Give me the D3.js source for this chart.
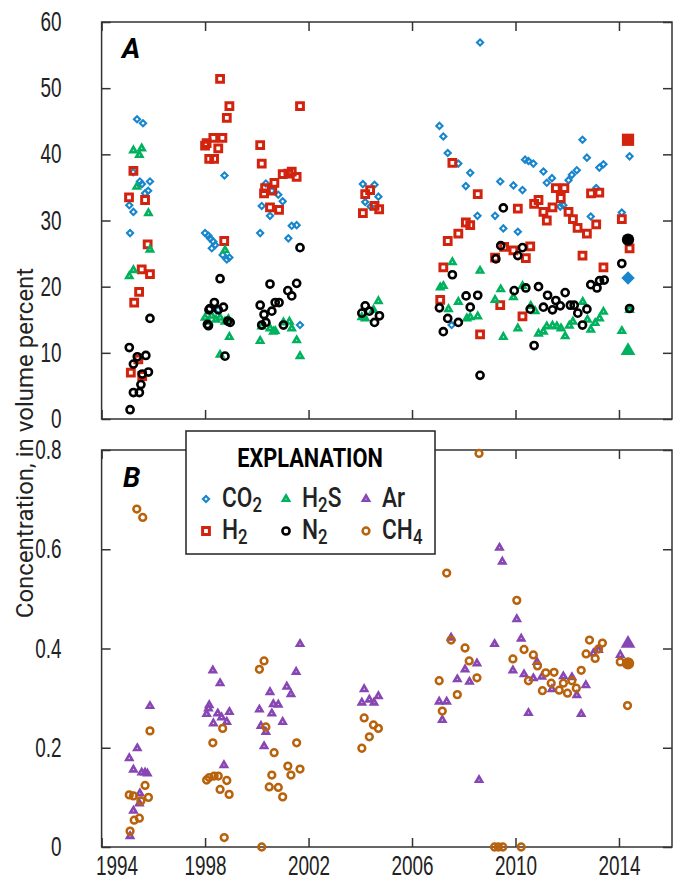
<!DOCTYPE html>
<html>
<head>
<meta charset="utf-8">
<script src="https://cdn.jsdelivr.net/npm/d3@7"></script>
<style>
  body { margin: 0; background: #fff; }
  svg { display: block; font-family: Roboto, 'Liberation Sans', sans-serif; }
  .frame { fill: none; stroke: #333; stroke-width: 1.5; }
  .axis path { display: none; }
  .axis line { stroke: #333; stroke-width: 1.5; }
  .axis text { font-size: 27px; font-weight: 500; fill: #222; }
</style>
</head>
<body>
<svg id="chart" width="677" height="882"></svg>
<script>
// [year, volume percent]
const co2 = [
  [1995.07, 32.3], [1995.23, 31.3], [1995.10, 28.1], [1995.22, 37.3], [1995.37, 45.3],
  [1995.60, 44.7], [1995.48, 35.9], [1995.56, 35.5], [1995.87, 35.9], [1995.80, 34.5],
  [1995.68, 34.1],
  [1998.00, 28.1], [1998.13, 27.7], [1998.19, 27.3], [1998.32, 26.8], [1998.39, 26.3],
  [1998.26, 25.8], [1998.68, 24.8], [1998.84, 24.1], [1998.94, 24.4], [1998.75, 36.8],
  [1998.51, 16.5],
  [2000.35, 35.6], [2000.58, 34.5], [2000.83, 33.9], [2001.00, 32.9], [2000.19, 32.2],
  [2000.51, 30.7], [2000.13, 28.1], [2001.35, 29.2], [2001.54, 29.3], [2001.22, 27.3],
  [2001.67, 14.2],
  [2004.10, 35.5], [2004.55, 35.4], [2004.70, 33.6], [2004.19, 32.8], [2004.40, 32.1],
  [2007.06, 44.3], [2007.21, 42.7], [2007.38, 40.2], [2007.79, 38.6], [2008.25, 37.2],
  [2008.08, 35.2], [2008.53, 30.7], [2009.21, 30.7], [2008.63, 56.9], [2009.41, 35.9],
  [2009.92, 35.3], [2010.27, 34.6], [2010.37, 39.2], [2010.50, 39.0], [2010.69, 38.6],
  [2011.08, 37.4], [2011.21, 35.7], [2011.41, 36.4], [2012.05, 36.1], [2012.18, 36.9],
  [2012.37, 37.6], [2012.59, 42.2], [2012.76, 39.5], [2013.24, 38.0], [2013.40, 38.5],
  [2013.12, 34.9], [2012.91, 30.6], [2014.11, 31.2], [2014.41, 39.7], [2009.53, 28.8],
  [2010.09, 28.3], [2007.53, 14.2], [2011.85, 32.3], [2011.73, 32.1]
]

const h2 = [
  [1995.23, 37.5], [1995.06, 33.5], [1995.68, 33.1], [1995.78, 26.4], [1995.55, 22.6],
  [1995.87, 21.9], [1995.45, 19.2], [1995.26, 17.6], [1995.13, 7.0], [1995.57, 6.5],
  [1995.42, 9.0],
  [1998.58, 51.4], [1998.94, 47.3], [1998.84, 45.5], [1998.67, 42.5], [1998.32, 42.5],
  [1998.06, 41.7], [1998.00, 41.3], [1998.51, 40.9], [1998.16, 39.3], [1998.35, 39.3],
  [1998.74, 26.9],
  [2001.67, 47.3], [2000.13, 41.4], [2000.19, 38.6], [2000.68, 35.7], [2001.00, 37.0],
  [2001.22, 37.1], [2001.35, 37.4], [2001.54, 36.6], [2000.32, 34.9], [2000.28, 34.1],
  [2000.60, 34.5], [2000.51, 32.0], [2000.86, 31.6],
  [2004.10, 31.1], [2004.19, 34.0], [2004.38, 34.6], [2004.55, 32.2], [2004.73, 31.7],
  [2007.56, 38.7], [2008.54, 34.0], [2010.09, 31.8], [2010.72, 32.5], [2010.89, 33.1],
  [2011.56, 34.9], [2011.89, 34.9], [2011.75, 33.4], [2011.08, 31.3], [2011.43, 32.0],
  [2011.21, 30.0], [2012.05, 31.3], [2012.22, 30.2], [2012.40, 28.9], [2012.76, 28.0],
  [2013.12, 29.4], [2012.92, 34.1], [2013.24, 34.2], [2014.11, 30.2], [2014.41, 25.8],
  [2007.38, 26.9], [2007.79, 28.0], [2008.08, 29.7], [2008.25, 29.3], [2007.21, 22.9],
  [2007.09, 18.0], [2008.63, 12.8], [2009.41, 17.2], [2009.21, 24.4], [2009.56, 26.0],
  [2009.92, 25.5], [2010.40, 24.3], [2010.57, 26.1], [2010.27, 15.5], [2012.59, 24.7],
  [2013.40, 22.9]
]

const h2s = [
  [1995.23, 40.6], [1995.55, 40.9], [1995.46, 39.9], [1995.36, 35.1], [1995.81, 31.1],
  [1995.87, 25.6], [1995.07, 21.6], [1995.23, 22.5],
  [1998.00, 15.3], [1998.13, 14.7], [1998.26, 15.6], [1998.42, 15.0], [1998.58, 15.3],
  [1998.77, 14.7], [1998.90, 15.1], [1998.77, 25.5], [1998.94, 12.4], [1998.58, 9.7],
  [2000.13, 11.8], [2000.51, 13.7], [2000.64, 13.2], [2000.19, 14.0], [2001.03, 14.6],
  [2001.26, 14.7], [2001.35, 13.7], [2001.54, 11.9], [2001.67, 9.5], [2000.71, 13.3],
  [2004.70, 17.8], [2004.51, 16.5], [2004.19, 15.2], [2004.06, 15.4],
  [2007.56, 23.7], [2007.09, 19.9], [2007.21, 20.1], [2007.41, 16.6], [2007.79, 17.7],
  [2008.12, 15.2], [2008.25, 15.4], [2008.54, 15.5], [2008.63, 22.4], [2009.21, 18.0],
  [2009.43, 19.6], [2009.53, 12.4], [2009.92, 18.4], [2010.09, 13.7], [2010.27, 20.1],
  [2010.59, 17.1], [2010.76, 16.3], [2010.89, 12.9], [2011.08, 13.2], [2011.21, 14.0],
  [2011.43, 14.1], [2011.60, 14.0], [2011.76, 13.7], [2011.92, 12.5], [2012.08, 14.1],
  [2012.22, 14.7], [2012.60, 17.7], [2012.78, 15.0], [2012.91, 13.5], [2013.08, 14.5],
  [2013.25, 15.2], [2013.40, 16.2], [2014.11, 13.3], [2014.41, 16.5]
]

const n2 = [
  [1995.87, 15.2], [1995.07, 10.8], [1995.23, 8.3], [1995.38, 9.4], [1995.71, 9.6],
  [1995.57, 6.8], [1995.81, 7.1], [1995.52, 5.2], [1995.46, 4.0], [1995.23, 4.0],
  [1995.10, 1.4],
  [1998.58, 21.2], [1998.36, 17.6], [1998.19, 16.7], [1998.15, 16.5], [1998.51, 16.5],
  [1998.71, 16.9], [1998.88, 14.8], [1998.97, 14.6], [1998.13, 14.1], [1998.09, 14.3],
  [1998.77, 9.5],
  [2001.67, 25.9], [2000.51, 20.4], [2001.54, 20.5], [2001.20, 19.4], [2001.35, 18.6],
  [2000.13, 17.2], [2000.71, 17.6], [2000.86, 17.6], [2000.58, 16.3], [2000.28, 15.8],
  [2000.19, 14.2], [2000.35, 14.6], [2001.03, 14.2],
  [2004.19, 17.1], [2004.35, 16.3], [2004.06, 16.0], [2004.74, 15.6], [2004.55, 14.6],
  [2009.53, 31.9], [2009.24, 24.2], [2009.43, 26.2], [2010.09, 24.7], [2010.27, 25.9],
  [2007.56, 21.8], [2007.06, 16.8], [2007.38, 15.2], [2007.79, 14.6], [2007.21, 13.2],
  [2008.09, 18.6], [2008.25, 16.9], [2008.54, 18.7], [2008.63, 6.6], [2009.95, 19.4],
  [2010.40, 19.8], [2010.89, 20.0], [2010.57, 16.6], [2010.72, 11.1], [2011.24, 18.7],
  [2011.08, 16.9], [2011.43, 16.5], [2011.56, 17.9], [2011.73, 17.1], [2011.92, 19.1],
  [2012.12, 17.2], [2012.27, 17.2], [2012.41, 16.0], [2012.76, 16.6], [2012.59, 14.2],
  [2012.91, 20.3], [2013.15, 19.8], [2013.25, 20.9], [2013.43, 21.0], [2014.11, 23.5],
  [2014.41, 16.7]
]

const ar = [
  [1995.07, 0.179], [1995.23, 0.156], [1995.38, 0.199], [1995.55, 0.150], [1995.68, 0.150],
  [1995.77, 0.148], [1995.87, 0.284], [1995.48, 0.108], [1995.46, 0.088], [1995.23, 0.073],
  [1995.10, 0.022],
  [1998.30, 0.356], [1998.58, 0.330], [1998.16, 0.286], [1998.13, 0.279], [1998.06, 0.268],
  [1998.49, 0.269], [1998.64, 0.261], [1998.84, 0.252], [1998.94, 0.272], [1998.32, 0.249],
  [1998.73, 0.165],
  [2001.67, 0.409], [2001.52, 0.353], [2001.16, 0.323], [2001.32, 0.308], [2000.51, 0.312],
  [2000.64, 0.288], [2000.83, 0.287], [2000.10, 0.277], [2000.58, 0.269], [2000.16, 0.244],
  [2000.35, 0.232], [2001.00, 0.252], [2000.28, 0.203],
  [2004.15, 0.318], [2004.06, 0.291], [2004.35, 0.297], [2004.53, 0.291], [2004.70, 0.304],
  [2007.05, 0.293], [2007.34, 0.293], [2007.17, 0.256], [2007.75, 0.338], [2008.05, 0.358],
  [2008.22, 0.333], [2008.51, 0.370], [2008.59, 0.135], [2009.19, 0.409], [2009.38, 0.603],
  [2009.49, 0.575], [2010.05, 0.459], [2010.22, 0.420], [2007.51, 0.422], [2009.90, 0.356],
  [2010.33, 0.348], [2010.50, 0.270], [2010.69, 0.340], [2010.83, 0.373], [2011.02, 0.343],
  [2011.41, 0.318], [2011.85, 0.344], [2012.18, 0.342], [2012.37, 0.306], [2012.54, 0.268],
  [2012.72, 0.326], [2013.01, 0.390], [2013.21, 0.397], [2014.05, 0.387]
]

const ch4 = [
  [1995.36, 0.681], [1995.59, 0.664], [1995.87, 0.234], [1995.68, 0.124], [1995.81, 0.100],
  [1995.52, 0.093], [1995.07, 0.105], [1995.23, 0.103], [1995.46, 0.058], [1995.26, 0.054],
  [1995.10, 0.032],
  [1998.68, 0.239], [1998.30, 0.210], [1998.06, 0.135], [1998.16, 0.140], [1998.35, 0.143],
  [1998.51, 0.143], [1998.84, 0.134], [1998.58, 0.116], [1998.93, 0.106], [1998.74, 0.019],
  [2000.28, 0.375], [2000.10, 0.358], [2000.35, 0.242], [2000.67, 0.190], [2001.54, 0.210],
  [2000.58, 0.145], [2000.48, 0.121], [2000.83, 0.120], [2001.00, 0.101], [2001.20, 0.163],
  [2001.32, 0.145], [2001.67, 0.157], [2000.19, 0.000],
  [2004.15, 0.260], [2004.51, 0.246], [2004.70, 0.239], [2004.35, 0.222], [2004.06, 0.199],
  [2008.59, 0.793], [2007.34, 0.552], [2010.05, 0.497], [2007.51, 0.417], [2007.05, 0.335],
  [2007.17, 0.274], [2007.75, 0.307], [2008.05, 0.401], [2008.21, 0.375], [2008.51, 0.341],
  [2009.90, 0.379], [2010.33, 0.398], [2010.69, 0.387], [2010.85, 0.365], [2010.50, 0.335],
  [2011.04, 0.315], [2011.17, 0.351], [2011.49, 0.352], [2011.38, 0.330], [2011.69, 0.316],
  [2011.85, 0.330], [2012.01, 0.310], [2012.18, 0.335], [2012.35, 0.320], [2012.54, 0.356],
  [2012.73, 0.389], [2013.08, 0.380], [2013.21, 0.399], [2013.36, 0.411], [2012.86, 0.417],
  [2014.05, 0.373], [2014.33, 0.285],
  [2009.19, 0], [2009.34, 0], [2009.51, 0], [2010.22, 0]
]

// the larger solid symbols near 2014
const latestYear = 2014.35
const latestA = [['co2', 21.3], ['h2', 42.2], ['h2s', 10.3], ['n2', 27.1]]
const latestB = [['ar', 0.41], ['ch4', 0.37]]

const yearTicks = [1994, 1998, 2002, 2006, 2010, 2014]
const ticksA = [0, 10, 20, 30, 40, 50, 60]
const ticksB = [0, 0.2, 0.4, 0.6, 0.8]

const STYLE = {
  co2: { shape: 'diamond', color: '#1886cd', size: 19, sw: 2.1, big: 90, label: 'CO', sub: '2', tail: '' },
  h2: { shape: 'square', color: '#d2230f', size: 46, sw: 3, big: 150, label: 'H', sub: '2', tail: '' },
  h2s: { shape: 'triangle', color: '#00b15e', size: 16, sw: 2.6, big: 95, label: 'H', sub: '2', tail: 'S' },
  n2: { shape: 'circle', color: '#000', size: 40, sw: 2.6, big: 120, label: 'N', sub: '2', tail: '' },
  ar: { shape: 'triangle', color: '#8846b4', size: 16, sw: 2.6, big: 95, label: 'Ar', sub: '', tail: '' },
  ch4: { shape: 'circle', color: '#b8620b', size: 36, sw: 2.5, big: 120, label: 'CH', sub: '4', tail: '' },
}

const svg = d3.select('#chart')
const left = 101.6
const right = 672

const x = d3.scaleLinear().domain([1994, 2016.05]).range([left, right])
const yA = d3.scaleLinear().domain([0, 60]).range([419, 22])
const yB = d3.scaleLinear().domain([0, 0.8]).range([847, 450])

// the original uses a condensed face; squeeze the glyphs to match
function condense(sel, k) {
  sel.each(function () {
    const w = this.getComputedTextLength()
    d3.select(this).attr('textLength', w * k).attr('lengthAdjust', 'spacingAndGlyphs')
  })
}

function symbolPath(shape, size) {
  const type = {
    diamond: d3.symbolSquare,
    square: d3.symbolSquare,
    triangle: d3.symbolTriangle,
    circle: d3.symbolCircle,
  }[shape]
  return d3.symbol(type, size)()
}

function drawFrame(y, ticks, fmt, withYears) {
  const [bottom, top] = y.range()
  svg.append('rect').attr('class', 'frame')
    .attr('x', left).attr('y', top)
    .attr('width', right - left).attr('height', bottom - top)

  const la = svg.append('g').attr('class', 'axis')
    .attr('transform', `translate(${left},0)`)
    .call(d3.axisLeft(y).tickValues(ticks).tickFormat(fmt).tickSize(-9).tickPadding(40))
  condense(la.selectAll('text'), 0.7)

  svg.append('g').attr('class', 'axis')
    .attr('transform', `translate(${right},0)`)
    .call(d3.axisRight(y).tickValues(ticks).tickSize(-9).tickFormat(''))

  svg.append('g').attr('class', 'axis')
    .attr('transform', `translate(0,${top})`)
    .call(d3.axisTop(x).tickValues(yearTicks).tickSize(-9).tickFormat(''))

  const ba = svg.append('g').attr('class', 'axis')
    .attr('transform', `translate(0,${bottom})`)
    .call(d3.axisBottom(x).tickValues(yearTicks).tickSize(-9).tickPadding(10)
      .tickFormat(withYears ? d3.format('d') : ''))
  if (withYears) {
    condense(ba.selectAll('text'), 0.7)
    ba.selectAll('text').attr('dy', '0.66em')
    ba.select('.tick text').attr('dx', 15)
  }
}

function drawSeries(y, data, key) {
  const s = STYLE[key]
  const rot = s.shape === 'diamond' ? ' rotate(45)' : ''
  svg.append('g').attr('class', key)
    .selectAll('path')
    .data(data)
    .join('path')
    .attr('d', symbolPath(s.shape, s.size))
    .attr('transform', (d) => `translate(${x(d[0])},${y(d[1])})${rot}`)
    .attr('fill', 'none')
    .attr('stroke', s.color)
    .attr('stroke-width', s.sw)
}

function drawLatest(y, list) {
  svg.append('g').attr('class', 'latest')
    .selectAll('path')
    .data(list)
    .join('path')
    .attr('d', (d) => symbolPath(STYLE[d[0]].shape, STYLE[d[0]].big))
    .attr('transform', (d) => `translate(${x(latestYear)},${y(d[1])})` +
      (STYLE[d[0]].shape === 'diamond' ? ' rotate(45)' : ''))
    .attr('fill', (d) => STYLE[d[0]].color)
}

function panelLetter(txt, px, py) {
  svg.append('text').attr('x', px).attr('y', py)
    .attr('font-size', 28).attr('font-weight', 'bold').attr('font-style', 'italic')
    .text(txt)
}

// panel A
drawFrame(yA, ticksA, d3.format('d'), false)
drawSeries(yA, co2, 'co2')
drawSeries(yA, h2, 'h2')
drawSeries(yA, h2s, 'h2s')
drawSeries(yA, n2, 'n2')
drawLatest(yA, latestA)
panelLetter('A', 122, 58)

// panel B
drawFrame(yB, ticksB, (d) => (d === 0 ? '0' : d3.format('.1f')(d)), true)
drawSeries(yB, ar, 'ar')
drawSeries(yB, ch4, 'ch4')
drawLatest(yB, latestB)
panelLetter('B', 123, 487)

// axis title
svg.append('text')
  .attr('transform', 'translate(33,443) rotate(-90)')
  .attr('text-anchor', 'middle')
  .attr('font-size', 24)
  .attr('fill', '#222')
  .text('Concentration, in volume percent')

// explanation box
const legend = svg.append('g').attr('transform', 'translate(186,431)')
legend.append('rect')
  .attr('width', 249).attr('height', 123)
  .attr('fill', '#fff').attr('stroke', '#222').attr('stroke-width', 1.5)
const head = legend.append('text')
  .attr('x', 124).attr('y', 36)
  .attr('text-anchor', 'middle')
  .attr('font-size', 25).attr('font-weight', 'bold')
  .text('EXPLANATION')
condense(head, 0.87)

const legendKeys = [['co2', 'h2s', 'ar'], ['h2', 'n2', 'ch4']]
const colX = [20, 100, 180]
const rowY = [68, 100]

legendKeys.forEach((row, r) => {
  row.forEach((key, c) => {
    const s = STYLE[key]
    const g = legend.append('g').attr('transform', `translate(${colX[c]},${rowY[r]})`)
    g.append('path')
      .attr('d', symbolPath(s.shape, s.size))
      .attr('transform', s.shape === 'diamond' ? 'rotate(45)' : null)
      .attr('fill', 'none').attr('stroke', s.color).attr('stroke-width', s.sw)
    const t = g.append('text')
      .attr('transform', 'translate(16,8) scale(0.84,1)')
      .attr('font-size', 27).attr('font-weight', 500).attr('fill', '#222')
    t.append('tspan').text(s.label)
    if (s.sub) t.append('tspan').attr('font-size', 20).attr('dy', 5).text(s.sub)
    if (s.tail) t.append('tspan').attr('dy', -5).text(s.tail)
  })
})
</script>
</body>
</html>
